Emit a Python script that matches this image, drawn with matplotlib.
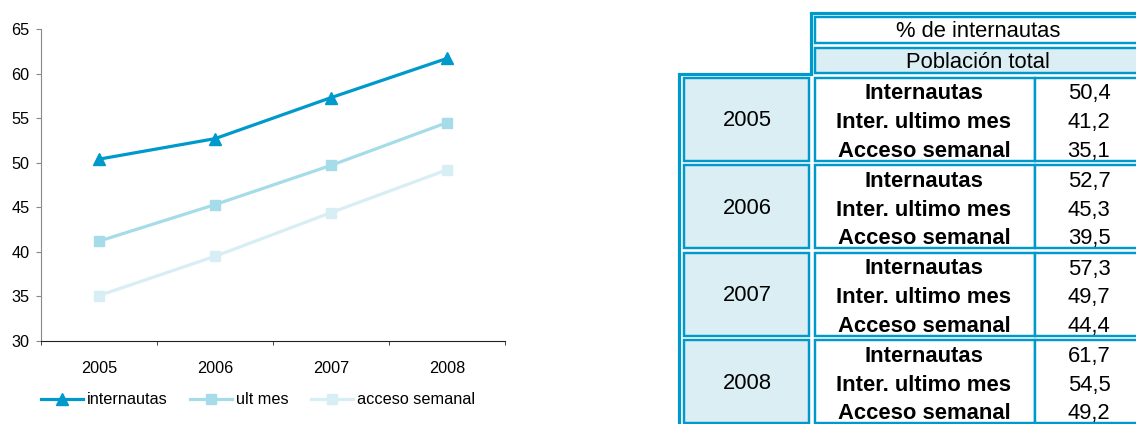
import matplotlib.pyplot as plt
from matplotlib.patches import Rectangle
from matplotlib.lines import Line2D

plt.rcParams['font.family'] = ['Liberation Sans', 'DejaVu Sans']

# datos
anios = ["2005", "2006", "2007", "2008"]
internautas = [50.4, 52.7, 57.3, 61.7]
ult_mes = [41.2, 45.3, 49.7, 54.5]
acceso_semanal = [35.1, 39.5, 44.4, 49.2]
etiquetas_filas = ["Internautas", "Inter. ultimo mes", "Acceso semanal"]
yticks = [30, 35, 40, 45, 50, 55, 60, 65]

AZUL = "#0099CC"
CELESTE = "#A6DCE9"
CELESTE_CLARO = "#D6EEF4"
FONDO = "#DAEEF3"

W, H = 1136, 424
fig = plt.figure(figsize=(W / 100, H / 100), dpi=100)

# --- grafico de lineas ---
ax = fig.add_axes([41 / W, 1 - 341 / H, (505 - 41) / W, (341 - 29) / H])
x = list(range(len(anios)))
ax.plot(x, internautas, color=AZUL, lw=2.3, marker="^", ms=9.2, label="internautas")
ax.plot(x, ult_mes, color=CELESTE, lw=2.3, marker="s", ms=7.8, label="ult mes")
ax.plot(x, acceso_semanal, color=CELESTE_CLARO, lw=2.3, marker="s", ms=7.8,
        label="acceso semanal")

ax.set_xlim(-0.5, len(anios) - 0.5)
ax.set_ylim(30, 65)
ax.set_yticks(yticks)
ax.set_xticks(x)
ax.set_xticklabels(anios)
ax.set_xticks([i - 0.5 for i in range(len(anios) + 1)], minor=True)
ax.tick_params(axis="x", which="major", length=0, pad=14.5, labelsize=11.7)
ax.tick_params(axis="x", which="minor", length=3, direction="out", color="#222222")
ax.tick_params(axis="y", length=3.6, direction="out", color="#888888", pad=4.5,
               labelsize=11.7)
for s in ["top", "right"]:
    ax.spines[s].set_visible(False)
ax.spines["left"].set_color("#888888")
ax.spines["bottom"].set_color("#222222")

fig.legend(loc="center", bbox_to_anchor=(258 / W, 1 - 400 / H), ncol=3,
           frameon=False, fontsize=11.7, handlelength=2.55, handletextpad=0.25,
           columnspacing=1.4)

# --- tabla ---
at = fig.add_axes([0, 0, 1, 1])
at.set_xlim(0, W)
at.set_ylim(H, 0)
at.axis("off")

lw_celda = 1.75
fs = 15.8

def celda(x0, y0, x1, y1, fondo):
    at.add_patch(Rectangle((x0, y0), x1 - x0, y1 - y0, facecolor=fondo,
                           edgecolor=AZUL, lw=lw_celda, joinstyle="miter"))

# marco exterior
at.add_line(Line2D([1160, 810.5, 810.5, 678.7, 678.7], [13.2, 13.2, 73.7, 73.7, 450],
                   color=AZUL, lw=2.3, solid_joinstyle="miter"))

# cabecera
celda(815, 16.5, 1160, 43.3, "white")
at.text(978, 36.7, "% de internautas", ha="center", va="baseline", fontsize=fs)
celda(815, 47.7, 1160, 72.8, FONDO)
at.text(978, 67.7, "Población total", ha="center", va="baseline", fontsize=fs)

series = [internautas, ult_mes, acceso_semanal]
for g, anio in enumerate(anios):
    top = 77.7 + g * 87.6
    bot = top + 83
    celda(683.5, top, 808.8, bot, FONDO)
    at.text(747, top + 48.3, anio, ha="center", va="baseline", fontsize=fs)
    celda(815, top, 1035, bot, "white")
    celda(1035, top, 1160, bot, "white")
    for r, etiqueta in enumerate(etiquetas_filas):
        yb = top + 21.6 + r * 28.7
        at.text(924, yb, etiqueta, ha="center", va="baseline", fontsize=fs,
                fontweight="bold")
        valor = f"{series[r][g]:.1f}".replace(".", ",")
        at.text(1089, yb, valor, ha="center", va="baseline", fontsize=fs)

fig.savefig("out.png", dpi=100)
